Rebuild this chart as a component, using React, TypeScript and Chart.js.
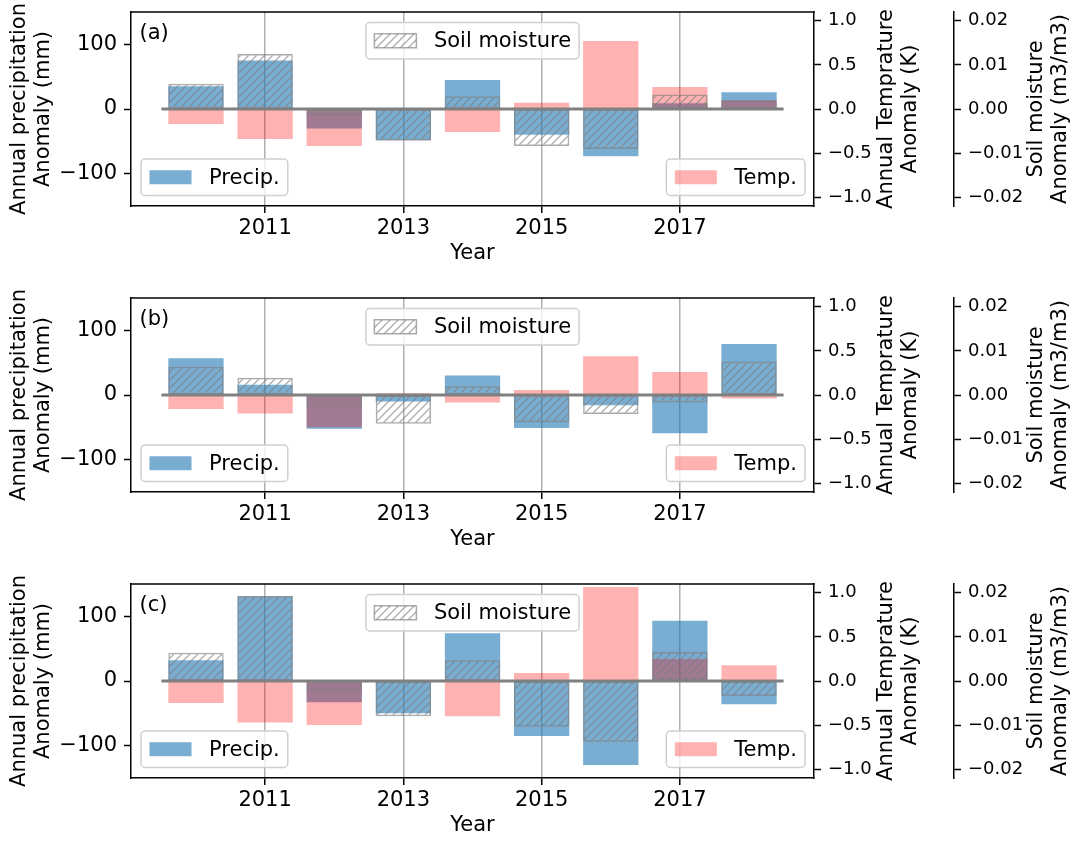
import React, { useEffect, useRef } from 'react';
import { Chart, registerables } from 'chart.js';

Chart.register(...registerables);

const FONT = "'DejaVu Sans', 'Liberation Sans', sans-serif";

const YEARS = [2010, 2011, 2012, 2013, 2014, 2015, 2016, 2017, 2018];
const X_TICKS = [2011, 2013, 2015, 2017];
const PRECIP_TICKS = [-100, 0, 100];
const TEMP_TICKS = [-1.0, -0.5, 0, 0.5, 1.0];
const SOIL_TICKS = [-0.02, -0.01, 0, 0.01, 0.02];
const ZERO_LINE_X = [2009.5, 2018.5];

const PANEL_LABELS = ['(a)', '(b)', '(c)'];

const PRECIP_A = [35, 75, -30, -48, 45, -40, -73, 9, 26];
const TEMP_A = [-0.17, -0.34, -0.42, 0, -0.26, 0.07, 0.77, 0.25, 0.1];
const SOIL_A = [0.0057, 0.0125, -0.0014, -0.0072, 0.0029, -0.0084, -0.0091, 0.0033, 0.0019];

const PRECIP_B = [57, 16, -52, -10, 30, -51, -16, -59, 79];
const TEMP_B = [-0.16, -0.21, -0.365, 0.02, -0.085, 0.058, 0.44, 0.26, -0.04];
const SOIL_B = [0.0064, 0.0039, -0.0028, -0.0065, 0.002, -0.0062, -0.0043, -0.0017, 0.0076];

const PRECIP_C = [32, 131, -33, -50, 74, -85, -130, 93, -36];
const TEMP_C = [-0.25, -0.47, -0.5, 0, -0.4, 0.09, 1.065, 0.25, 0.18];
const SOIL_C = [0.0064, 0.0193, -0.0022, -0.008, 0.0047, -0.0104, -0.0138, 0.0066, -0.0034];

const PRECIP_TITLE = ['Annual precipitation', 'Anomaly (mm)'];
const TEMP_TITLE = ['Annual Temprature', 'Anomaly (K)'];
const SOIL_TITLE = ['Soil moisture', 'Anomaly (m3/m3)'];
const X_TITLE = 'Year';
const LEGEND_PRECIP = 'Precip.';
const LEGEND_TEMP = 'Temp.';
const LEGEND_SOIL = 'Soil moisture';

const BLUE = 'rgba(31,119,180,0.6)';
const PINK = 'rgba(255,0,0,0.3)';
const HATCH_COLOR = 'rgba(128,128,128,0.65)';

const PANELS = [
  { label: PANEL_LABELS[0], precip: PRECIP_A, temp: TEMP_A, soil: SOIL_A, top: 0 },
  { label: PANEL_LABELS[1], precip: PRECIP_B, temp: TEMP_B, soil: SOIL_B, top: 286 },
  { label: PANEL_LABELS[2], precip: PRECIP_C, temp: TEMP_C, soil: SOIL_C, top: 572 },
];

const FS = 21;
const FS_RIGHT = 18;
const LINE_GAP = 24;

const minus = (s: string) => s.replace('-', '\u2212');

function makeHatch(ctx: CanvasRenderingContext2D): CanvasPattern {
  const s = 8;
  const c = document.createElement('canvas');
  c.width = s;
  c.height = s;
  const g = c.getContext('2d') as CanvasRenderingContext2D;
  g.strokeStyle = HATCH_COLOR;
  g.lineWidth = 1.3;
  g.beginPath();
  g.moveTo(-1, s + 1);
  g.lineTo(s + 1, -1);
  g.moveTo(-2, 2);
  g.lineTo(2, -2);
  g.moveTo(s - 2, s + 2);
  g.lineTo(s + 2, s - 2);
  g.stroke();
  return ctx.createPattern(c, 'repeat') as CanvasPattern;
}

function roundRect(ctx: CanvasRenderingContext2D, x: number, y: number, w: number, h: number, r: number) {
  ctx.beginPath();
  ctx.moveTo(x + r, y);
  ctx.lineTo(x + w - r, y);
  ctx.arcTo(x + w, y, x + w, y + r, r);
  ctx.lineTo(x + w, y + h - r);
  ctx.arcTo(x + w, y + h, x + w - r, y + h, r);
  ctx.lineTo(x + r, y + h);
  ctx.arcTo(x, y + h, x, y + h - r, r);
  ctx.lineTo(x, y + r);
  ctx.arcTo(x, y, x + r, y, r);
  ctx.closePath();
}

function drawLegend(
  ctx: CanvasRenderingContext2D,
  x: number,
  y: number,
  text: string,
  fill: string | CanvasPattern,
  hatched: boolean
) {
  const tw = ctx.measureText(text).width;
  const w = tw + 76;
  const h = 36.5;
  roundRect(ctx, x, y, w, h, 4);
  ctx.fillStyle = 'rgba(255,255,255,0.8)';
  ctx.fill();
  ctx.strokeStyle = '#d0d0d0';
  ctx.lineWidth = 1.5;
  ctx.stroke();
  const sx = x + 8.5;
  const sy = y + h / 2 - 7;
  ctx.fillStyle = fill;
  ctx.fillRect(sx, sy, 42, 14);
  if (hatched) {
    ctx.strokeStyle = HATCH_COLOR;
    ctx.lineWidth = 1.5;
    ctx.strokeRect(sx, sy, 42, 14);
  }
  ctx.fillStyle = '#000';
  ctx.textAlign = 'left';
  ctx.textBaseline = 'middle';
  ctx.fillText(text, x + 68, y + h / 2 + 1);
}

function drawRotatedTitle(ctx: CanvasRenderingContext2D, lines: string[], x: number, y: number) {
  ctx.save();
  ctx.translate(x, y);
  ctx.rotate(-Math.PI / 2);
  ctx.textAlign = 'center';
  ctx.textBaseline = 'middle';
  ctx.fillStyle = '#000';
  lines.forEach((ln, i) => ctx.fillText(ln, 0, i * LINE_GAP));
  ctx.restore();
}

const overlayPlugin = {
  id: 'overlay',
  afterDraw(chart: any, _args: any, opts: any) {
    const { ctx, chartArea: a, scales } = chart;
    ctx.save();
    ctx.font = `${FS}px ${FONT}`;
    // top spine
    ctx.strokeStyle = '#000';
    ctx.lineWidth = 1.5;
    ctx.beginPath();
    ctx.moveTo(a.left - 0.75, a.top);
    ctx.lineTo(a.right + 0.75, a.top);
    ctx.stroke();
    // panel label
    ctx.fillStyle = '#000';
    ctx.textAlign = 'left';
    ctx.textBaseline = 'middle';
    ctx.fillText(opts.label, a.left + 8.5, a.top + 21.5);
    // legends
    const soilW = ctx.measureText(LEGEND_SOIL).width + 76;
    drawLegend(ctx, (a.left + a.right) / 2 - soilW / 2, a.top + 10.5, LEGEND_SOIL, opts.hatch, true);
    drawLegend(ctx, a.left + 10, a.bottom - 10.5 - 36.5, LEGEND_PRECIP, BLUE, false);
    const tempW = ctx.measureText(LEGEND_TEMP).width + 76;
    drawLegend(ctx, a.right - 9 - tempW, a.bottom - 10.5 - 36.5, LEGEND_TEMP, PINK, false);
    // right axis titles
    const cy = (a.top + a.bottom) / 2;
    drawRotatedTitle(ctx, TEMP_TITLE, scales.y1.left + 73, cy);
    drawRotatedTitle(ctx, SOIL_TITLE, scales.y2.left + 83, cy);
    ctx.restore();
  },
};

function Panel({ label, precip, temp, soil, top }: any) {
  const ref = useRef<HTMLCanvasElement | null>(null);
  useEffect(() => {
    const canvas = ref.current as HTMLCanvasElement;
    const ctx = canvas.getContext('2d') as CanvasRenderingContext2D;
    const hatch = makeHatch(ctx);
    const font = { family: FONT, size: FS };
    const fontRight = { family: FONT, size: FS_RIGHT };
    const titleFont = { family: FONT, size: FS, lineHeight: LINE_GAP / FS };
    const tickGrid = { drawOnChartArea: false, tickColor: '#000', tickLength: 7, tickWidth: 1.5 };
    const border = { color: '#000', width: 1.5 };
    const barCommon = { grouped: false, barPercentage: 0.8, categoryPercentage: 1.0 };
    const fitY = (w: number) => (s: any) => {
      s.width = w;
      s.paddingTop = 0;
      s.paddingBottom = 0;
    };
    const chart = new Chart(canvas, {
      type: 'bar',
      data: {
        datasets: [
          {
            type: 'bar',
            label: LEGEND_PRECIP,
            data: YEARS.map((x, i) => ({ x, y: precip[i] })),
            backgroundColor: BLUE,
            borderWidth: 0,
            yAxisID: 'y',
            order: 4,
            ...barCommon,
          },
          {
            type: 'bar',
            label: LEGEND_TEMP,
            data: YEARS.map((x, i) => ({ x, y: temp[i] })),
            backgroundColor: PINK,
            borderWidth: 0,
            yAxisID: 'y1',
            order: 3,
            ...barCommon,
          },
          {
            type: 'bar',
            label: LEGEND_SOIL,
            data: YEARS.map((x, i) => ({ x, y: soil[i] })),
            backgroundColor: hatch,
            borderColor: HATCH_COLOR,
            borderWidth: 1.5,
            borderSkipped: false,
            yAxisID: 'y2',
            order: 2,
            ...barCommon,
          },
          {
            type: 'line',
            label: 'zero',
            data: ZERO_LINE_X.map((x) => ({ x, y: 0 })),
            borderColor: '#808080',
            borderWidth: 3,
            pointRadius: 0,
            yAxisID: 'y',
            order: 1,
          },
        ],
      } as any,
      options: {
        animation: false,
        responsive: false,
        events: [],
        layout: { padding: { top: 12, bottom: 4, left: 0, right: 0 } },
        plugins: {
          legend: { display: false },
          tooltip: { enabled: false },
          overlay: { label, hatch },
        } as any,
        scales: {
          x: {
            type: 'linear',
            position: 'bottom',
            offset: false,
            min: 2009.06,
            max: 2018.94,
            afterBuildTicks: (s: any) => {
              s.ticks = X_TICKS.map((v) => ({ value: v }));
            },
            afterFit: (s: any) => {
              s.height = 60;
              s.paddingLeft = 0;
              s.paddingRight = 0;
            },
            ticks: {
              callback: (v: any) => String(v),
              font,
              color: '#000',
              padding: 3,
              maxRotation: 0,
              autoSkip: false,
            },
            grid: { offset: false, color: '#b0b0b0', lineWidth: 1.5, tickColor: '#000', tickLength: 7, tickWidth: 1.5 },
            border,
            title: { display: true, text: X_TITLE, font, color: '#000', padding: { top: 0, bottom: 0 } },
          },
          y: {
            type: 'linear',
            position: 'left',
            min: -150,
            max: 150,
            afterBuildTicks: (s: any) => {
              s.ticks = PRECIP_TICKS.map((v) => ({ value: v }));
            },
            afterFit: fitY(131),
            ticks: { callback: (v: any) => minus(String(v)), font, color: '#000', padding: 7 },
            grid: tickGrid,
            border,
            title: { display: true, text: PRECIP_TITLE, font: titleFont, color: '#000', padding: { top: 7.5, bottom: 0 } },
          },
          y1: {
            type: 'linear',
            position: 'right',
            min: -1.1,
            max: 1.1,
            afterBuildTicks: (s: any) => {
              s.ticks = TEMP_TICKS.map((v) => ({ value: v }));
            },
            afterFit: fitY(140),
            ticks: { callback: (v: any) => minus(Number(v).toFixed(1)), font: fontRight, color: '#000', padding: 7 },
            grid: tickGrid,
            border,
            title: { display: false },
          },
          y2: {
            type: 'linear',
            position: 'right',
            min: -0.022,
            max: 0.022,
            afterBuildTicks: (s: any) => {
              s.ticks = SOIL_TICKS.map((v) => ({ value: v }));
            },
            afterFit: fitY(122),
            ticks: { callback: (v: any) => minus(Number(v).toFixed(2)), font: fontRight, color: '#000', padding: 7 },
            grid: tickGrid,
            border,
            title: { display: false },
          },
        },
      } as any,
      plugins: [overlayPlugin as any],
    });
    return () => chart.destroy();
  }, [label, precip, temp, soil]);
  return (
    <canvas
      ref={ref}
      width={1076}
      height={270}
      style={{ position: 'absolute', left: 0, top, width: 1076, height: 270 }}
    />
  );
}

export default function App() {
  return (
    <div style={{ position: 'absolute', left: 0, top: 0, width: 1076, height: 841, background: '#fff', overflow: 'hidden' }}>
      {PANELS.map((p) => (
        <Panel key={p.label} {...p} />
      ))}
    </div>
  );
}
